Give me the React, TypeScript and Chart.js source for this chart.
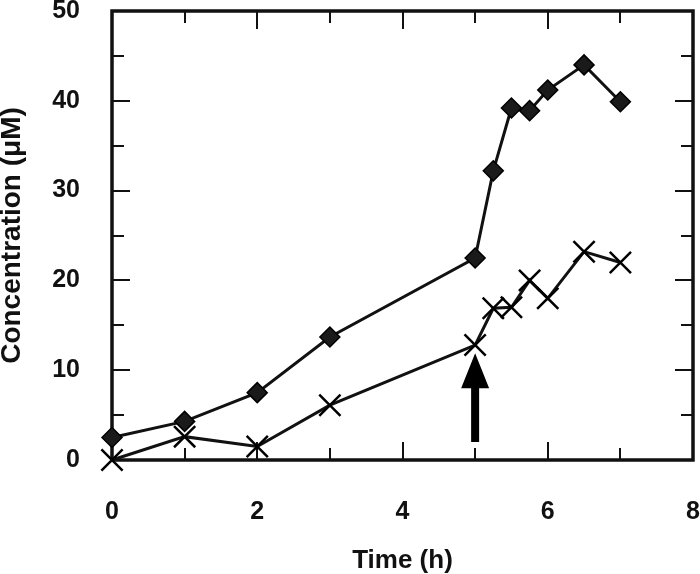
import React, { useEffect, useRef } from "react";
import { Chart, registerables } from "chart.js";

Chart.register(...registerables);

// ---- Data ----
const timeDiamond = [0, 1, 2, 3, 5, 5.25, 5.5, 5.75, 6, 6.5, 7];
const concDiamond = [2.5, 4.3, 7.5, 13.7, 22.5, 32.2, 39.2, 38.9, 41.2, 44.0, 39.9];
const timeCross = [0, 1, 2, 3, 5, 5.25, 5.5, 5.75, 6, 6.5, 7];
const concCross = [0, 2.6, 1.5, 6.1, 12.8, 16.9, 17.0, 20.0, 18.0, 23.2, 22.0];

const X_MIN = 0;
const X_MAX = 8;
const X_STEP = 2;
const Y_MIN = 0;
const Y_MAX = 50;
const Y_STEP = 10;

const arrowTime = 5;
const arrowFrom = 2.0;
const arrowTo = 11.9;

const xTitle = "Time (h)";
const yTitle = "Concentration (\u03bcM)";

const INK = "#111111";
const FONT = "'Liberation Sans', Arial, sans-serif";

const framePlugin = {
  id: "frame",
  beforeDatasetsDraw(chart: any) {
    const { ctx, chartArea, scales } = chart;
    const { left, right, top, bottom } = chartArea;
    const x = scales.x;
    const y = scales.y;
    ctx.save();
    ctx.strokeStyle = INK;
    ctx.lineWidth = 2;
    ctx.lineCap = "butt";
    const xMinor = X_STEP / 2;
    for (let v = X_MIN; v <= X_MAX + 1e-9; v += xMinor) {
      const px = Math.round(x.getPixelForValue(v));
      const major = Math.abs(v / X_STEP - Math.round(v / X_STEP)) < 1e-6;
      const len = major ? 18 : 12;
      ctx.beginPath();
      ctx.moveTo(px, bottom);
      ctx.lineTo(px, bottom - len);
      ctx.moveTo(px, top);
      ctx.lineTo(px, top + len);
      ctx.stroke();
    }
    const yMinor = Y_STEP / 2;
    for (let v = Y_MIN; v <= Y_MAX + 1e-9; v += yMinor) {
      const py = Math.round(y.getPixelForValue(v));
      const major = Math.abs(v / Y_STEP - Math.round(v / Y_STEP)) < 1e-6;
      const len = major ? 18 : 12;
      ctx.beginPath();
      ctx.moveTo(left, py);
      ctx.lineTo(left + len, py);
      ctx.moveTo(right, py);
      ctx.lineTo(right - len, py);
      ctx.stroke();
    }
    ctx.lineWidth = 3.5;
    ctx.strokeRect(left, top, right - left, bottom - top);
    ctx.restore();
  },
  afterDatasetsDraw(chart: any) {
    const { ctx, scales } = chart;
    const x = scales.x;
    const y = scales.y;
    const ax = x.getPixelForValue(arrowTime);
    const yb = y.getPixelForValue(arrowFrom);
    const yt = y.getPixelForValue(arrowTo);
    const headH = 35;
    const headW = 14;
    const shaftW = 4;
    ctx.save();
    ctx.fillStyle = "#000";
    ctx.beginPath();
    ctx.moveTo(ax - shaftW, yb);
    ctx.lineTo(ax - shaftW, yt + headH);
    ctx.lineTo(ax - headW, yt + headH);
    ctx.lineTo(ax, yt);
    ctx.lineTo(ax + headW, yt + headH);
    ctx.lineTo(ax + shaftW, yt + headH);
    ctx.lineTo(ax + shaftW, yb);
    ctx.closePath();
    ctx.fill();
    ctx.restore();
  },
};

export default function App() {
  const canvasRef = useRef<HTMLCanvasElement | null>(null);

  useEffect(() => {
    document.body.style.margin = "0";
    const canvas = canvasRef.current;
    if (!canvas) return;
    const tickFont = { family: FONT, weight: "bold" as const, size: 25 };
    const chart = new Chart(canvas, {
      type: "line",
      data: {
        datasets: [
          {
            label: "Diamond",
            data: timeDiamond.map((t, i) => ({ x: t, y: concDiamond[i] })),
            borderColor: INK,
            borderWidth: 3,
            backgroundColor: "#1a1a1a",
            pointStyle: "rectRot",
            pointRadius: 10,
            pointBorderWidth: 1.5,
            pointBorderColor: "#000",
            pointBackgroundColor: "#1a1a1a",
            tension: 0,
            clip: false as any,
          },
          {
            label: "Cross",
            data: timeCross.map((t, i) => ({ x: t, y: concCross[i] })),
            borderColor: INK,
            borderWidth: 3,
            pointStyle: "crossRot",
            pointRadius: 15,
            pointBorderWidth: 2.5,
            pointBorderColor: "#000",
            pointBackgroundColor: "#000",
            tension: 0,
            clip: false as any,
          },
        ],
      },
      options: {
        responsive: false,
        animation: false,
        devicePixelRatio: 1,
        layout: { autoPadding: false, padding: { top: 11, right: 7, left: 0, bottom: 0 } },
        plugins: {
          legend: { display: false },
          tooltip: { enabled: false },
        },
        scales: {
          x: {
            type: "linear",
            min: X_MIN,
            max: X_MAX,
            ticks: {
              stepSize: X_STEP,
              color: INK,
              font: tickFont,
              padding: 37,
              maxRotation: 0,
            },
            grid: { display: false, drawTicks: false, tickLength: 0 },
            border: { display: false },
            title: {
              display: true,
              text: xTitle,
              color: INK,
              font: { family: FONT, weight: "bold" as const, size: 26, lineHeight: 1.05 },
              padding: { top: 0, bottom: 0 },
            },
            afterFit(scale: any) {
              scale.height = 114;
              scale.paddingLeft = 0;
              scale.paddingRight = 0;
              scale.paddingTop = 0;
              scale.paddingBottom = 0;
            },
          },
          y: {
            type: "linear",
            min: Y_MIN,
            max: Y_MAX,
            ticks: {
              stepSize: Y_STEP,
              color: INK,
              font: tickFont,
              padding: 32,
            },
            grid: { display: false, drawTicks: false, tickLength: 0 },
            border: { display: false },
            title: {
              display: true,
              text: yTitle,
              color: INK,
              font: { family: FONT, weight: "bold" as const, size: 28, lineHeight: 0.85 },
              padding: { top: 0, bottom: 0 },
            },
            afterFit(scale: any) {
              scale.width = 112;
              scale.paddingLeft = 0;
              scale.paddingRight = 0;
              scale.paddingTop = 0;
              scale.paddingBottom = 0;
            },
          },
        },
      },
      plugins: [framePlugin],
    });
    return () => chart.destroy();
  }, []);

  return (
    <div style={{ position: "absolute", left: 0, top: 0, width: 700, height: 574, background: "#fff" }}>
      <canvas ref={canvasRef} width={700} height={574} style={{ width: 700, height: 574 }} />
    </div>
  );
}
